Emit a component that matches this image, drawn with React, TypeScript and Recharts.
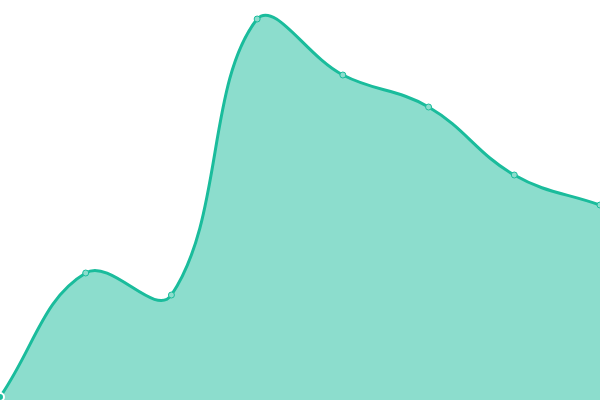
import { AreaChart, Area, XAxis, YAxis } from 'recharts';

const labels = ['P1', 'P2', 'P3', 'P4', 'P5', 'P6', 'P7', 'P8'];
const values = [3, 127, 105, 381, 325, 293, 225, 195];

const data = labels.map((name, i) => ({ name, value: values[i] }));

const WIDTH = 600;
const HEIGHT = 400;
const TENSION = 0.4;

// spline with distance-weighted tangents, control points kept inside the plot
type Pt = { x: number; y: number };

const clamp = (v: number, lo: number, hi: number) => Math.max(lo, Math.min(hi, v));

function controls(prev: Pt, cur: Pt, next: Pt, t: number) {
  const d01 = Math.hypot(cur.x - prev.x, cur.y - prev.y);
  const d12 = Math.hypot(next.x - cur.x, next.y - cur.y);
  let s01 = d01 / (d01 + d12);
  let s12 = d12 / (d01 + d12);
  if (isNaN(s01)) s01 = 0;
  if (isNaN(s12)) s12 = 0;
  const fa = t * s01;
  const fb = t * s12;
  return {
    prev: {
      x: clamp(cur.x - fa * (next.x - prev.x), 0, WIDTH),
      y: clamp(cur.y - fa * (next.y - prev.y), 0, HEIGHT),
    },
    next: {
      x: clamp(cur.x + fb * (next.x - prev.x), 0, WIDTH),
      y: clamp(cur.y + fb * (next.y - prev.y), 0, HEIGHT),
    },
  };
}

class SplineCurve {
  _ctx: any;
  _line: number = NaN;
  _pts: Pt[] = [];
  constructor(ctx: any) {
    this._ctx = ctx;
  }
  areaStart() { this._line = 0; }
  areaEnd() { this._line = NaN; }
  lineStart() { this._pts = []; }
  point(x: number, y: number) { this._pts.push({ x: +x, y: +y }); }
  lineEnd() {
    const pts = this._pts;
    const n = pts.length;
    if (n) {
      if (this._line) this._ctx.lineTo(pts[0].x, pts[0].y);
      else this._ctx.moveTo(pts[0].x, pts[0].y);
      const cps = pts.map((p, i) => controls(pts[Math.max(i - 1, 0)], p, pts[Math.min(i + 1, n - 1)], TENSION));
      for (let i = 1; i < n; i++) {
        const a = cps[i - 1].next;
        const b = cps[i].prev;
        this._ctx.bezierCurveTo(a.x, a.y, b.x, b.y, pts[i].x, pts[i].y);
      }
    }
    if (this._line || (this._line !== 0 && n === 1)) this._ctx.closePath();
    this._line = 1 - this._line;
  }
}

const smooth = (ctx: any) => new SplineCurve(ctx);

export default function App() {
  return (
    <div style={{ position: 'fixed', left: 0, top: 0 }}>
      <AreaChart width={WIDTH} height={HEIGHT} data={data} margin={{ top: 0, right: 0, bottom: 0, left: 0 }}>
        <XAxis dataKey="name" hide />
        <YAxis domain={[0, 400]} hide />
        <Area
          type={smooth as any}
          dataKey="value"
          stroke="#1abc9c"
          strokeWidth={3}
          fill="#1abc9c"
          fillOpacity={0.5}
          dot={{ r: 3, fill: '#8cddcd', stroke: '#1abc9c', strokeWidth: 1, fillOpacity: 1 }}
          isAnimationActive={false}
        />
      </AreaChart>
    </div>
  );
}
